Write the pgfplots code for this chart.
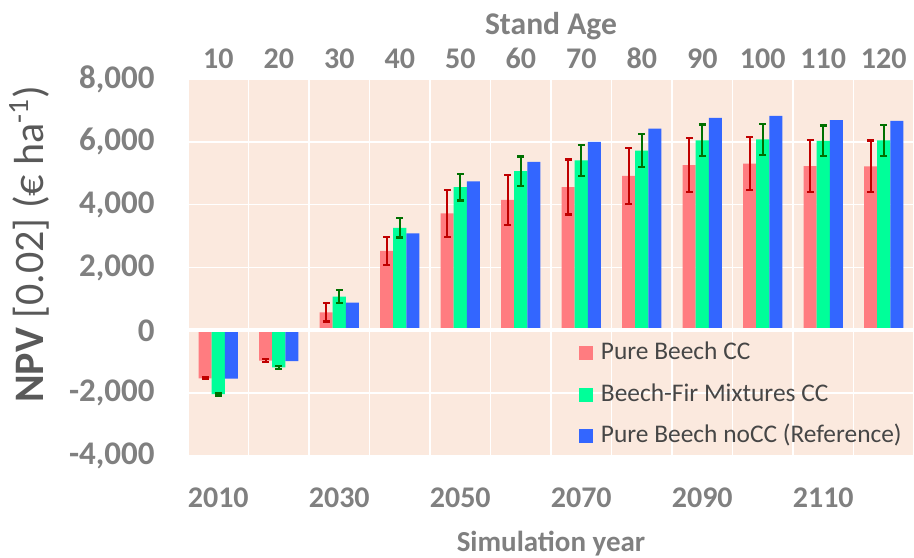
\documentclass[border=0pt]{standalone}
\usepackage{fontspec}
\setmainfont{Carlito}
\usepackage{pgfplots}
\usepackage{pgfplotstable}
\pgfplotsset{compat=1.18}

\definecolor{plotbg}{RGB}{251,233,222}
\definecolor{pbcc}{RGB}{255,124,128}
\definecolor{bfcc}{RGB}{0,255,153}
\definecolor{pbref}{RGB}{51,102,255}
\definecolor{errred}{RGB}{192,0,0}
\definecolor{errgreen}{RGB}{0,112,0}
\definecolor{ticktext}{RGB}{128,128,128}
\definecolor{labeltext}{RGB}{89,89,89}
\definecolor{legendtext}{RGB}{70,70,70}

% NPV per simulation decade (index 0 = 2010 ... 11 = 2120), value and error
\pgfplotstableread{
x y e
0 -1530 30
1 -965 50
2 570 290
3 2530 450
4 3720 745
5 4150 800
6 4560 875
7 4920 895
8 5260 865
9 5310 845
10 5230 835
11 5220 825
}\purebeechcc

\pgfplotstableread{
x y e
0 -2030 45
1 -1180 50
2 1075 215
3 3260 305
4 4555 425
5 5070 465
6 5410 500
7 5720 520
8 6045 505
9 6075 485
10 6030 490
11 6050 490
}\beechfircc

\pgfplotstableread{
x y
0 -1540
1 -980
2 885
3 3085
4 4745
5 5365
6 5995
7 6420
8 6760
9 6825
10 6690
11 6665
}\purebeechref

\begin{document}
\begin{tikzpicture}
\begin{axis}[
  scale only axis,
  width=363bp, height=188.5bp,
  xmin=-0.5, xmax=11.5,
  ymin=-4000, ymax=8000,
  axis background/.style={fill=plotbg},
  axis line style={draw=none},
  ytick={-4000,-2000,...,8000},
  xtick={0,2,...,10},
  xticklabels={2010,2030,2050,2070,2090,2110},
  minor xtick={-0.5,0.5,...,11.5},
  ymajorgrids, xminorgrids,
  major grid style={white, line width=0.8bp},
  minor grid style={white, line width=0.8bp},
  major tick length=0pt, minor tick length=0pt,
  /pgf/number format/.cd, 1000 sep={,}, assume math mode=true,
  /pgfplots/.cd,
  yticklabel style={font=\fontsize{16.5bp}{18bp}\selectfont\bfseries,
    text=ticktext, inner sep=0pt, anchor=east, xshift=-16.5bp},
  xticklabel style={font=\fontsize{15bp}{17bp}\selectfont\bfseries,
    text=ticktext, inner sep=0pt, anchor=base, yshift=-25.5bp},
  ylabel={\textbf{NPV} [0.02] (€ ha\textsuperscript{-1})},
  every axis y label/.style={at={(rel axis cs:-0.219,0.562)}, rotate=90,
    anchor=center, font=\fontsize{21bp}{24bp}\selectfont, text=labeltext},
  xlabel={Simulation year},
  every axis x label/.style={at={(rel axis cs:0.5,-0.2546)}, anchor=base,
    font=\fontsize{14.5bp}{17bp}\selectfont\bfseries, text=ticktext},
  ybar=0pt, bar width=0.215,
  legend style={at={(0.538,0.315)}, anchor=north west, draw=none, fill=none,
    font=\fontsize{12.7bp}{14bp}\selectfont, text=legendtext,
    inner sep=0pt, row sep=5.2bp,
    nodes={inner sep=1.5bp, text height=9.5bp, text depth=3bp},
    /tikz/every odd column/.append style={column sep=2.5bp}},
  legend cell align=left,
]
\addplot[fill=pbcc, draw=none,
  legend image code/.code={\fill[pbcc] (0bp,-3.5bp) rectangle (7bp,3.5bp);},
  error bars/.cd, y dir=both, y explicit,
  error bar style={line width=1bp, errred},
  error mark options={rotate=90, mark size=1.7bp, line width=1.1bp, errred}]
  table[x=x, y=y, y error=e] {\purebeechcc};
\addlegendentry{Pure Beech CC}
\addplot[fill=bfcc, draw=none,
  legend image code/.code={\fill[bfcc] (0bp,-3.5bp) rectangle (7bp,3.5bp);},
  error bars/.cd, y dir=both, y explicit,
  error bar style={line width=1bp, errgreen},
  error mark options={rotate=90, mark size=1.7bp, line width=1.1bp, errgreen}]
  table[x=x, y=y, y error=e] {\beechfircc};
\addlegendentry{Beech-Fir Mixtures CC}
\addplot[fill=pbref, draw=none,
  legend image code/.code={\fill[pbref] (0bp,-3.5bp) rectangle (7bp,3.5bp);}]
  table[x=x, y=y] {\purebeechref};
\addlegendentry{Pure Beech noCC (Reference)}
% zero line over the bar bases
\draw[white, line width=2bp] (axis cs:-0.5,0) -- (axis cs:11.5,0);
\coordinate (sw) at (rel axis cs:0,0);
\coordinate (ne) at (rel axis cs:1,1);
\end{axis}
% stand age along the top
\begin{axis}[
  scale only axis,
  width=363bp, height=188.5bp,
  xmin=-0.5, xmax=11.5,
  ymin=-4000, ymax=8000,
  hide y axis,
  axis line style={draw=none},
  xtick={0,1,...,11},
  xticklabels={10,20,30,40,50,60,70,80,90,100,110,120},
  xticklabel pos=upper,
  major tick length=0pt,
  /pgf/number format/assume math mode=true,
  xticklabel style={font=\fontsize{15bp}{17bp}\selectfont\bfseries,
    text=ticktext, inner sep=0pt, anchor=base, yshift=5.25bp},
  xlabel={Stand Age},
  every axis x label/.style={at={(rel axis cs:0.5,1.117)}, anchor=base,
    font=\fontsize{15.8bp}{18bp}\selectfont\bfseries, text=ticktext},
]
\end{axis}
\pgfresetboundingbox
\path[use as bounding box] ([xshift=-94bp,yshift=-51bp]sw) rectangle ([yshift=39.5bp]ne);
\end{tikzpicture}
\end{document}
